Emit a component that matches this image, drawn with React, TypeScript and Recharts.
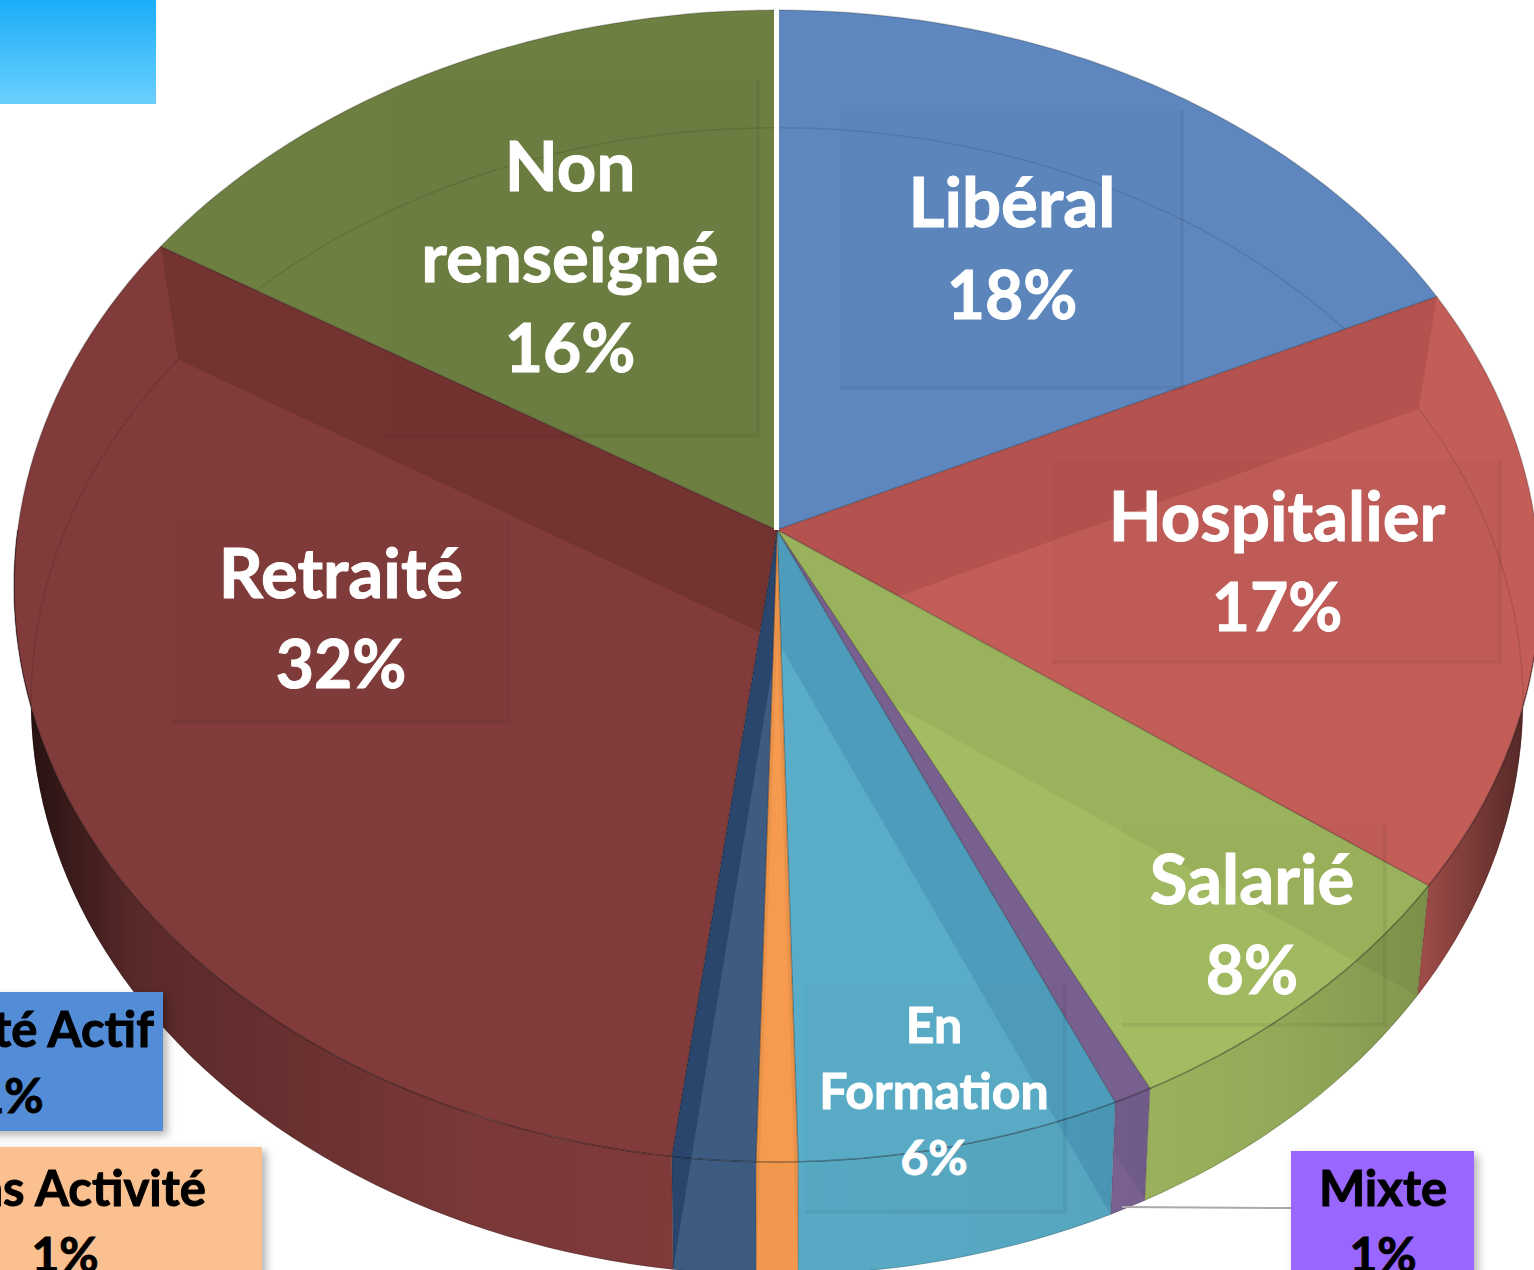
import React from "react";
import { PieChart, Pie } from "recharts";

const categories = ["Libéral", "Hospitalier", "Salarié", "Mixte", "En Formation", "Sans Activité", "Activité Actif", "Retraité", "Non renseigné"];
const shares = [18, 17, 7.6, 0.75, 6.25, 0.8, 1.6, 31.75, 16.25];
const percentLabels = ["18%", "17%", "8%", "1%", "6%", "1%", "1%", "32%", "16%"];
const sliceColors = ["#5D87BE", "#C25D58", "#A3BC62", "#7F6699", "#5AADC8", "#F59A4F", "#3E5C82", "#813B3B", "#6E7F42"];
const innerWallTints = ["rgba(0,0,0,0.1)", "rgba(60,0,0,0.11)", "rgba(40,40,0,0.06)", "rgba(0,0,0,0.05)", "rgba(0,50,110,0.13)", "rgba(0,0,0,0.05)", "rgba(0,20,60,0.3)", "rgba(50,10,0,0.17)", "rgba(0,0,0,0.08)"];
const tableData = categories.map((name, i) => ({ name, value: shares[i], percent: percentLabels[i], color: sliceColors[i] }));

// label layout by slice index
const labelLayout: any[] = [
  { x: 1012, y: 200, size: 69, pct: 66, gap: 93, fill: "#fff", box: [840, 110, 1182, 388] },
  { x: 1277, y: 514, size: 69, pct: 66, gap: 91, fill: "#fff", box: [1052, 460, 1500, 662] },
  { x: 1252, y: 877, size: 69, pct: 66, gap: 91, fill: "#fff", box: [1122, 825, 1385, 1025] },
  { x: 1383, y: 1187, size: 49, pct: 48, gap: 66, fill: "#000", solid: "#9966FF", box: [1291, 1151, 1474, 1300], leader: [1122, 1207, 1291, 1208] },
  { x: 934, y: 1024, size: 50, pct: 48, gap: 66, fill: "#fff", wrap: true, box: [805, 985, 1065, 1212] },
  { x: 65, y: 1187, size: 49, pct: 48, gap: 66, fill: "#000", solid: "#FAC090", box: [-130, 1147, 262, 1300] },
  { x: 10, y: 1028, size: 49, pct: 48, gap: 66, fill: "#000", solid: "#548DD7", box: [-150, 992, 163, 1131] },
  { x: 341, y: 571, size: 69, pct: 66, gap: 91, fill: "#fff", box: [172, 520, 509, 722] },
  { x: 570, y: 164, size: 69, pct: 66, gap: 91, fill: "#fff", wrap: true, box: [385, 80, 758, 436] },
];

const FONT = "Lato, 'Open Sans', sans-serif";
const W = 1534;
const H = 1270;

function project(cx: number, cy: number, R: number, theta: number, lower: boolean) {
  const t = (theta * Math.PI) / 180;
  const X = Math.sin(t);
  const Y = Math.cos(t);
  const k = lower ? 0.107 : 0.0972;
  const A = lower ? R * 0.994 : R;
  const B = lower ? R * 1.3 : R * 1.331;
  const oy = lower ? cy + 110 : cy;
  const d = 1 + k * Y;
  return [cx + (B * X) / d, oy - (A * Y) / d];
}

function rim(cx: number, cy: number, R: number, a: number, b: number, lower: boolean) {
  const pts: number[][] = [];
  const n = Math.max(2, Math.ceil((b - a) / 1.5));
  for (let i = 0; i <= n; i++) pts.push(project(cx, cy, R, a + ((b - a) * i) / n, lower));
  return pts;
}
const toPath = (pts: number[][]) => pts.map((p, i) => `${i ? "L" : "M"}${p[0].toFixed(1)} ${p[1].toFixed(1)}`).join(" ");

function Slice3D(props: any) {
  const { cx, cy, outerRadius: R, startAngle, endAngle, index } = props;
  const fill = tableData[index].color;
  const tint = innerWallTints[index];
  const a = 90 - startAngle;
  const b = 90 - endAngle;
  const topRim = rim(cx, cy, R, a, b, false);
  const lowRim = rim(cx, cy, R, a, b, true);
  const topFace = `M${cx} ${cy} ${toPath(topRim).replace("M", "L")} Z`;
  const fa = Math.max(a, 90);
  const fb = Math.min(b, 270);
  const hasFront = fb > fa;
  const wall = hasFront
    ? `${toPath(rim(cx, cy, R, fa, fb, false))} ${toPath(rim(cx, cy, R, fa, fb, true).reverse()).replace("M", "L")} Z`
    : "";
  const lowApex = [cx, cy + 110];
  const strip = (th: number) => {
    const t = project(cx, cy, R, th, false);
    const l = project(cx, cy, R, th, true);
    return `M${cx} ${cy} L${t[0]} ${t[1]} L${l[0]} ${l[1]} L${lowApex[0]} ${lowApex[1]} Z`;
  };
  const clipId = `face-${index}`;
  const shadeId = `wallShade-${index}`;
  const isLast = Math.abs(b - 360) < 0.01;
  const gapEnd = project(cx, cy, R, 360, false);
  return (
    <g>
      <defs>
        <clipPath id={clipId}>
          <path d={`${topFace} ${wall}`} />
        </clipPath>
        <linearGradient id={shadeId} gradientUnits="userSpaceOnUse" x1="0" x2={W} y1="0" y2="0">
          <stop offset="0.02" stopColor="#000" stopOpacity="0.7" />
          <stop offset="0.09" stopColor="#000" stopOpacity="0.3" />
          <stop offset="0.3" stopColor="#000" stopOpacity="0.06" />
          <stop offset="0.45" stopColor="#000" stopOpacity="0.01" />
          <stop offset="0.7" stopColor="#000" stopOpacity="0.04" />
          <stop offset="0.84" stopColor="#000" stopOpacity="0.1" />
          <stop offset="0.93" stopColor="#000" stopOpacity="0.2" />
          <stop offset="1" stopColor="#000" stopOpacity="0.6" />
        </linearGradient>
      </defs>
      {hasFront && (
        <g>
          <path d={wall} fill={fill} />
          <path d={wall} fill={`url(#${shadeId})`} stroke="rgba(0,0,0,0.12)" strokeWidth={1} />
        </g>
      )}
      <path d={topFace} fill={fill} stroke="rgba(0,0,0,0.18)" strokeWidth={1.5} />
      <g clipPath={`url(#${clipId})`}>
        <path d={strip(a)} fill={tint} />
        <path d={strip(b)} fill={tint} />
        <path d={toPath(lowRim)} fill="none" stroke="rgba(0,0,0,0.1)" strokeWidth={1.5} />
      </g>
      {hasFront && <path d={toPath(rim(cx, cy, R, fa, fb, false))} fill="none" stroke="rgba(0,0,0,0.2)" strokeWidth={1.5} />}
      {isLast && <line x1={cx - 0.5} y1={cy} x2={gapEnd[0] - 0.5} y2={gapEnd[1] - 6} stroke="#fff" strokeWidth={5} />}
    </g>
  );
}

function SliceLabel(props: any) {
  const { index } = props;
  const item = tableData[index];
  const l = labelLayout[index];
  const [x1, y1, x2, y2] = l.box;
  const parts = l.wrap ? item.name.split(" ") : [item.name];
  const lines = [...parts, item.percent];
  return (
    <g>
      {l.leader && <line x1={l.leader[0]} y1={l.leader[1]} x2={l.leader[2]} y2={l.leader[3]} stroke="#AAAAAA" strokeWidth={2} />}
      {l.solid ? (
        <rect x={x1} y={y1} width={x2 - x1} height={y2 - y1} fill={l.solid} style={{ filter: "drop-shadow(4px 4px 4px rgba(0,0,0,0.3))" }} />
      ) : (
        <g>
          <rect x={x1} y={y1} width={x2 - x1} height={y2 - y1} fill="rgba(0,0,0,0.012)" />
          <path d={`M${x1} ${y2} L${x2} ${y2} L${x2} ${y1}`} fill="none" stroke="rgba(0,0,0,0.05)" strokeWidth={4} />
        </g>
      )}
      {lines.map((t: string, i: number) => (
        <text
          key={i}
          x={l.x}
          y={l.y + i * l.gap}
          textAnchor="middle"
          dominantBaseline="central"
          fill={l.fill}
          stroke={l.fill}
          strokeWidth={1}
          fontFamily={FONT}
          fontWeight={700}
          fontSize={i === lines.length - 1 ? l.pct : l.size}
        >
          {t}
        </text>
      ))}
    </g>
  );
}

export default function App() {
  return (
    <div style={{ position: "absolute", left: 0, top: 0, width: W, height: H, overflow: "hidden", background: "#fff" }}>
      <div
        style={{
          position: "absolute",
          left: 0,
          top: 0,
          width: 156,
          height: 104,
          background: "linear-gradient(180deg, #1BAEF8 0%, #6BCFFD 100%)",
        }}
      />
      <div style={{ position: "absolute", left: 0, top: 0 }}>
        <PieChart width={W} height={H} margin={{ top: 0, right: 0, bottom: 0, left: 0 }}>
          <Pie
            data={tableData}
            dataKey="value"
            nameKey="name"
            cx={777}
            cy={530}
            innerRadius={0}
            outerRadius={570.5}
            startAngle={90}
            endAngle={-270}
            paddingAngle={0}
            stroke="none"
            isAnimationActive={false}
            labelLine={false}
            label={SliceLabel}
            shape={Slice3D}
          />
        </PieChart>
      </div>
    </div>
  );
}
